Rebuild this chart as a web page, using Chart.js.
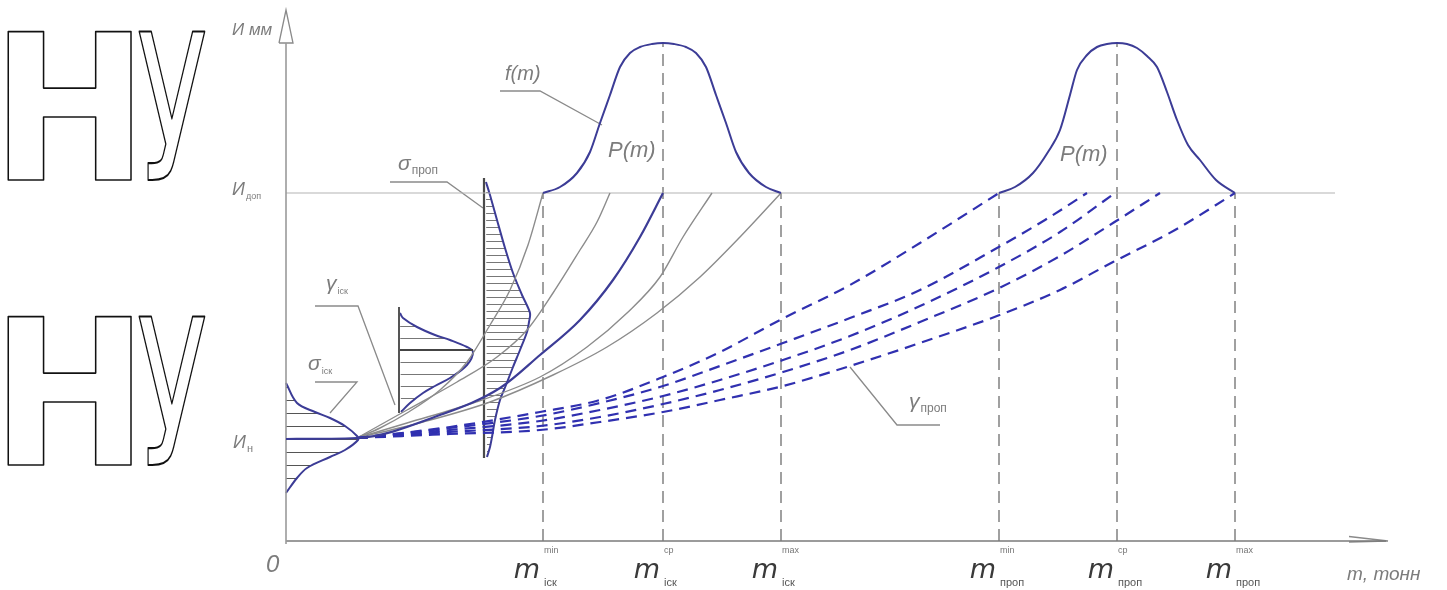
<!DOCTYPE html>
<html>
<head>
<meta charset="utf-8">
<script src="https://cdn.jsdelivr.net/npm/chart.js@4.4.0/dist/chart.umd.min.js"></script>
<style>
    html, body { margin: 0; padding: 0; background: #fff; }
    #wrap { position: relative; width: 1447px; height: 590px; }
</style>
</head>
<body>
<div id="wrap"><canvas id="canvas"></canvas></div>
<script>
// x - m (умовні од.), y - знос И (умовні од.)
var mTicks = [25.7, 37.7, 49.5, 71.3, 83.1, 94.9];
var mSup = ['min', 'ср', 'max', 'min', 'ср', 'max'];
var mSub = ['іск', 'іск', 'іск', 'проп', 'проп', 'проп'];
var wearStart = 10.3;
var wearLimit = 34.8;
var wearPeak = 49.8;

// f(m) - розподіл m для іск та проп
var bellIskX = [25.7, 27.4, 29.1, 30.4, 31.4, 32.4, 33.4, 34.4, 35.4, 36.6, 37.7, 38.8, 40.0, 41.0, 42.0, 43.0, 44.0, 45.0, 46.3, 48.0, 49.5];
var bellIskY = [34.8, 35.4, 36.8, 38.9, 41.8, 44.6, 47.4, 48.8, 49.4, 49.7, 49.8, 49.7, 49.4, 48.8, 47.4, 44.6, 41.8, 38.9, 36.8, 35.4, 34.8];
var bellPropX = [71.3, 72.9, 74.7, 76.2, 77.4, 78.4, 79.1, 80.1, 81.1, 82.1, 83.1, 84.1, 85.1, 86.1, 87.1, 88.1, 89.1, 90.2, 91.4, 93.0, 94.9];
var bellPropY = [34.8, 35.4, 36.8, 38.9, 41.1, 44.6, 47.1, 48.6, 49.4, 49.7, 49.8, 49.7, 49.3, 48.5, 47.4, 44.9, 42.1, 39.6, 38.1, 36.1, 34.8];

// криві зносу (іск) - суцільні
var isk1X = [7.1, 9.4, 12.1, 15.4, 18.1, 20.4, 22.4, 24.2, 25.7];
var isk1Y = [10.3, 11.3, 12.8, 15.1, 17.9, 21.6, 25.1, 29.6, 34.8];
var isk2X = [7.1, 12.1, 17.1, 21.1, 24.1, 26.7, 29.4, 31.1, 32.4];
var isk2Y = [10.3, 13.1, 15.9, 18.4, 21.1, 24.8, 29.1, 31.9, 34.8];
var isk3X = [0, 7.1, 15.4, 21.4, 25.4, 29.4, 32.7, 35.4, 37.7];
var isk3Y = [10.2, 10.3, 12.6, 15.3, 18.6, 22.1, 26.1, 30.4, 34.8];
var isk4X = [7.1, 12.1, 18.7, 25.4, 30.1, 34.1, 37.4, 39.7, 42.6];
var isk4Y = [10.3, 11.8, 13.8, 16.4, 19.4, 22.8, 26.4, 30.4, 34.8];
var isk5X = [7.1, 13.7, 20.4, 26.7, 32.1, 37.1, 41.4, 45.4, 49.5];
var isk5Y = [10.3, 11.9, 13.9, 16.6, 19.4, 22.8, 26.4, 30.4, 34.8];

// криві зносу (проп) - штрихові
var prop1X = [7.1, 16.4, 25.4, 31.4, 37.7, 43.4, 49.4, 56.4, 63.4, 71.3];
var prop1Y = [10.3, 11.4, 12.9, 14.1, 16.4, 18.9, 22.1, 25.6, 29.8, 34.8];
var prop2X = [7.1, 16.4, 25.4, 31.4, 37.7, 43.4, 49.7, 56.4, 63.4, 71.1, 75.9, 80.1];
var prop2Y = [10.3, 11.3, 12.5, 13.8, 15.5, 17.5, 19.8, 22.3, 25.1, 29.3, 32.1, 34.8];
var prop3X = [7.1, 16.4, 25.4, 31.4, 37.7, 43.4, 49.7, 56.4, 63.4, 71.1, 77.4, 82.9];
var prop3Y = [10.3, 11.1, 12.0, 13.1, 14.5, 16.1, 18.1, 20.5, 23.5, 27.3, 30.9, 34.8];
var prop4X = [7.1, 16.4, 25.4, 31.4, 37.7, 43.4, 49.7, 56.4, 63.4, 71.1, 77.4, 82.7, 87.4];
var prop4Y = [10.3, 10.9, 11.5, 12.4, 13.7, 15.1, 16.9, 19.1, 21.9, 25.2, 28.5, 31.8, 34.8];
var prop5X = [7.1, 16.4, 25.4, 31.4, 37.7, 43.4, 49.7, 56.4, 63.4, 71.1, 77.4, 82.7, 88.9, 94.9];
var prop5Y = [10.3, 10.7, 11.1, 11.9, 12.9, 14.1, 15.5, 17.5, 19.8, 22.5, 25.1, 27.9, 31.1, 34.8];

// розподіли σ_іск, γ_іск, σ_проп
var sigmaIskX = [0, 1.1, 2.9, 4.4, 5.9, 7.1, 7.2, 5.9, 4.4, 2.1, 1.1, 0];
var sigmaIskY = [15.8, 13.8, 12.9, 12.3, 11.5, 10.5, 10.1, 9.1, 8.4, 7.3, 6.3, 4.8];
var gammaIskX = [11.4, 11.7, 13.1, 14.9, 16.4, 18.1, 18.7, 18.1, 16.4, 14.9, 13.7, 12.4, 11.5];
var gammaIskY = [22.8, 22.3, 21.4, 20.6, 20.1, 19.4, 18.9, 17.6, 16.3, 15.5, 14.8, 13.8, 12.9];
var gammaBase = [11.3, 23.4, 12.8];
var gammaMean = 19.1;
var sigmaPropX = [20.0, 20.4, 21.1, 21.9, 22.7, 23.6, 24.4, 24.3, 24.1, 23.4, 22.7, 22.0, 21.4, 20.9, 20.6, 20.4, 20.1];
var sigmaPropY = [35.9, 34.6, 32.1, 29.3, 26.8, 24.6, 22.8, 21.9, 20.9, 19.1, 17.4, 15.6, 14.1, 12.1, 10.4, 9.4, 8.4];
var sigmaPropBase = [19.8, 36.3, 8.3];

// виносні лінії підписів
var leaderFm = [[21.4, 45.0], [25.4, 45.0], [31.6, 41.6]];
var leaderSigmaProp = [[10.4, 35.9], [16.1, 35.9], [19.7, 33.3]];
var leaderGammaIsk = [[2.9, 23.5], [7.2, 23.5], [10.9, 13.6]];
var leaderSigmaIsk = [[2.9, 15.9], [7.1, 15.9], [4.4, 12.8]];
var leaderGammaProp = [[56.4, 17.4], [61.1, 11.6], [65.4, 11.6]];

var notes = [
    {text: 'f(m)', x: 21.9, y: 46.1, size: 20},
    {text: 'P(m)', x: 32.2, y: 38.4, size: 22},
    {text: 'P(m)', x: 77.4, y: 38.0, size: 22},
    {text: 'σ', sub: 'проп', x: 11.2, y: 37.1, size: 21, subSize: 12},
    {text: 'γ', sub: 'іск', x: 4.0, y: 25.1, size: 21, subSize: 9},
    {text: 'σ', sub: 'іск', x: 2.2, y: 17.1, size: 21, subSize: 9},
    {text: 'γ', sub: 'проп', x: 62.3, y: 13.3, size: 21, subSize: 12},
    {text: 'И мм', x: -5.4, y: 50.6, size: 17},
    {text: 'И', sub: 'доп', x: -5.4, y: 34.6, size: 18, subSize: 9},
    {text: 'И', sub: 'н', x: -5.3, y: 9.3, size: 18, subSize: 11},
    {text: '0', x: -2.0, y: -3.1, size: 24},
    {text: 'm, тонн', x: 106.1, y: -3.9, size: 19}
];

var BLUE = '#3c3c96';
var DASHBLUE = '#3030b0';
var GREY = '#8c8c8c';

function pts(xs, ys) {
    return xs.map(function (x, i) { return {x: x, y: ys[i]}; });
}

function pairs(list) {
    return list.map(function (p) { return {x: p[0], y: p[1]}; });
}

function line(data, color, width, extra) {
    return Object.assign({
        data: data,
        showLine: true,
        borderColor: color,
        borderWidth: width,
        pointRadius: 0,
        fill: false,
        tension: 0,
        order: 5
    }, extra || {});
}

function hatch(step, offset, color) {
    var c = document.createElement('canvas');
    c.width = 4;
    c.height = step;
    var g = c.getContext('2d');
    g.fillStyle = color;
    g.fillRect(0, offset, 4, 1);
    return g.createPattern(c, 'repeat');
}

var datasets = [];

// осі
datasets.push(line([{x: 0, y: -0.3}, {x: 0, y: 49.8}], '#9a9a9a', 1.6));
datasets.push(line([{x: -0.7, y: 49.8}, {x: 0, y: 53.1}, {x: 0.7, y: 49.8}, {x: -0.7, y: 49.8}], '#8a8a8a', 1.3));
datasets.push(line([{x: 0, y: 0}, {x: 110.0, y: 0}], '#7a7a7a', 1.6));
datasets.push(line([{x: 106.3, y: 0.45}, {x: 110.2, y: 0}, {x: 106.3, y: -0.1}], '#8a8a8a', 1.3));
datasets.push(line([{x: 0, y: wearLimit}, {x: 104.9, y: wearLimit}], '#b4b4b4', 1.2));

// вертикальні штрихові лінії
mTicks.forEach(function (m, i) {
    var top = mSup[i] === 'ср' ? wearPeak : wearLimit;
    datasets.push(line([{x: m, y: 0}, {x: m, y: top}], '#6e6e6e', 1.3, {borderDash: [12, 7]}));
});

// розподіли з штрихуванням
datasets.push(line(pts(sigmaIskX, sigmaIskY), BLUE, 2, {fill: 'shape', backgroundColor: hatch(13, 10, '#555'), tension: 0.35, order: 6}));
datasets.push(line(pts(gammaIskX, gammaIskY), BLUE, 2, {fill: 'shape', backgroundColor: hatch(12, 2, '#777'), tension: 0.35, order: 6}));
datasets.push(line(pts(sigmaPropX, sigmaPropY), BLUE, 2, {fill: 'shape', backgroundColor: hatch(7, 3, '#777'), tension: 0.3, order: 6}));
datasets.push(line([{x: gammaBase[0], y: gammaBase[1]}, {x: gammaBase[0], y: gammaBase[2]}], '#555', 2));
datasets.push(line([{x: gammaBase[0], y: gammaMean}, {x: gammaIskX[6], y: gammaMean}], '#444', 2));
datasets.push(line([{x: sigmaPropBase[0], y: sigmaPropBase[1]}, {x: sigmaPropBase[0], y: sigmaPropBase[2]}], '#4a4a4a', 2.2));

// f(m)
datasets.push(line(pts(bellIskX, bellIskY), BLUE, 2, {cubicInterpolationMode: 'monotone', order: 1}));
datasets.push(line(pts(bellPropX, bellPropY), BLUE, 2, {cubicInterpolationMode: 'monotone', order: 1}));

// криві іск
[[isk1X, isk1Y], [isk2X, isk2Y], [isk4X, isk4Y], [isk5X, isk5Y]].forEach(function (c) {
    datasets.push(line(pts(c[0], c[1]), GREY, 1.4, {cubicInterpolationMode: 'monotone', order: 3}));
});
datasets.push(line(pts(isk3X, isk3Y), BLUE, 2.2, {cubicInterpolationMode: 'monotone', order: 2}));

// криві проп
[[prop1X, prop1Y], [prop2X, prop2Y], [prop3X, prop3Y], [prop4X, prop4Y], [prop5X, prop5Y]].forEach(function (c) {
    datasets.push(line(pts(c[0], c[1]), DASHBLUE, 2.2, {cubicInterpolationMode: 'monotone', borderDash: [11, 7], order: 2}));
});

// виносні лінії
[leaderFm, leaderSigmaProp, leaderGammaIsk, leaderSigmaIsk, leaderGammaProp].forEach(function (l) {
    datasets.push(line(pairs(l), '#8a8a8a', 1.3));
});

function outlineChar(ctx, ch, weight, left, top, w, h) {
    ctx.save();
    ctx.font = weight + ' 200px "DejaVu Sans"';
    var m = ctx.measureText(ch);
    var gw = m.actualBoundingBoxLeft + m.actualBoundingBoxRight;
    var gh = m.actualBoundingBoxAscent + m.actualBoundingBoxDescent;
    var sx = w / gw, sy = h / gh;
    ctx.translate(left, top);
    ctx.scale(sx, sy);
    ctx.lineWidth = 1.6 / Math.sqrt(sx * sy);
    ctx.lineJoin = 'round';
    ctx.strokeStyle = '#111';
    ctx.textBaseline = 'alphabetic';
    ctx.strokeText(ch, m.actualBoundingBoxLeft, m.actualBoundingBoxAscent);
    ctx.restore();
}

var labelsPlugin = {
    id: 'drawingLabels',
    afterDatasetsDraw: function (chart) {
        var ctx = chart.ctx;
        var xs = chart.scales.x, ys = chart.scales.y;

        // логотип НУ
        [32, 317].forEach(function (top) {
            outlineChar(ctx, 'Н', 'bold', 8, top, 124, 148);
            outlineChar(ctx, 'У', 'normal', 139, top, 66, 148);
        });

        ctx.save();
        ctx.textAlign = 'left';
        ctx.textBaseline = 'alphabetic';
        notes.forEach(function (n) {
            var px = xs.getPixelForValue(n.x), py = ys.getPixelForValue(n.y);
            ctx.font = 'italic ' + n.size + 'px "Liberation Sans"';
            ctx.fillStyle = '#7c7c7c';
            ctx.fillText(n.text, px, py);
            if (n.sub) {
                var w = ctx.measureText(n.text).width;
                ctx.font = n.subSize + 'px "Liberation Sans"';
                ctx.fillText(n.sub, px + w + 1, py + 4);
            }
        });

        // підписи m на осі
        mTicks.forEach(function (m, i) {
            var px = xs.getPixelForValue(m);
            ctx.font = 'italic 27px "DejaVu Sans"';
            ctx.fillStyle = '#3a3a3a';
            ctx.textAlign = 'right';
            ctx.fillText('m', px - 3, ys.getPixelForValue(-3.7));
            ctx.textAlign = 'left';
            ctx.font = '9px "Liberation Sans"';
            ctx.fillStyle = '#777';
            ctx.fillText(mSup[i], px + 1, ys.getPixelForValue(-1.2));
            ctx.font = '11px "Liberation Sans"';
            ctx.fillStyle = '#555';
            ctx.fillText(mSub[i], px + 1, ys.getPixelForValue(-4.5));
        });
        ctx.restore();
    }
};

var ctx = document.getElementById('canvas').getContext('2d');
var drawing = new Chart(ctx, {
    type: 'scatter',
    data: { datasets: datasets },
    options: {
        animation: false,
        responsive: true,
        maintainAspectRatio: false,
        events: [],
        layout: { padding: 0 },
        plugins: {
            legend: { display: false },
            tooltip: { enabled: false }
        },
        scales: {
            x: { type: 'linear', display: false, min: -28.6, max: 116.1 },
            y: { type: 'linear', display: false, min: -4.9, max: 54.1 }
        }
    },
    plugins: [labelsPlugin]
});
</script>
</body>
</html>
